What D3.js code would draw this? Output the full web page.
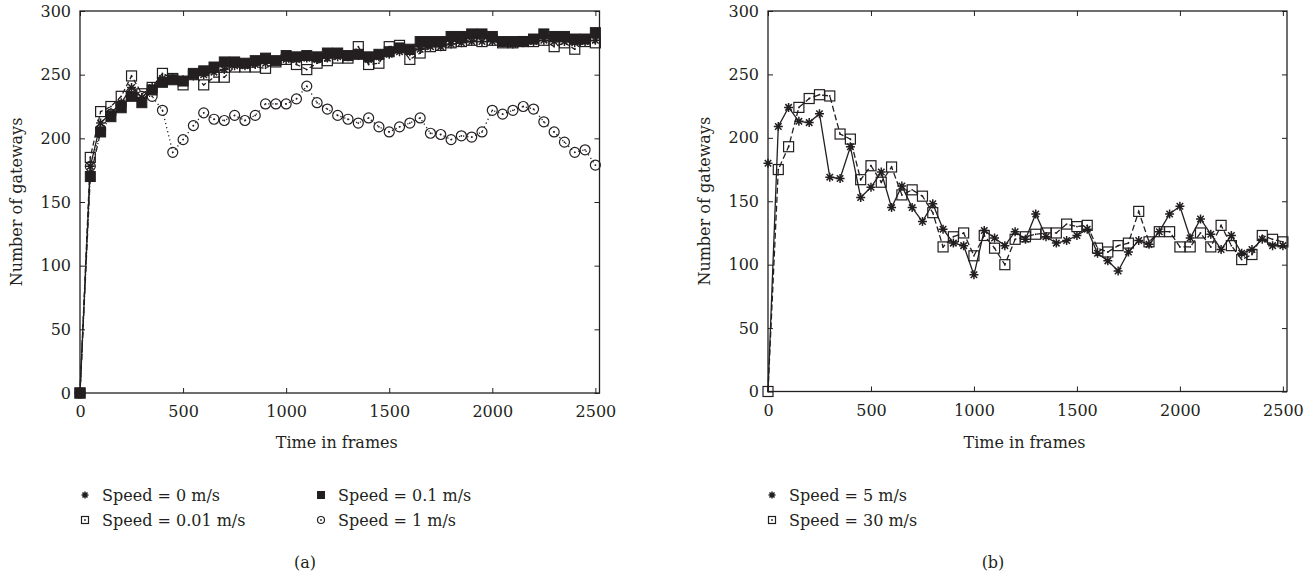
<!DOCTYPE html>
<html><head><meta charset="utf-8">
<script src="https://cdn.jsdelivr.net/npm/d3@7"></script>
<style>
body{margin:0;background:#fff}
svg text{font-family:"DejaVu Serif","Liberation Serif",serif;fill:#231f20}
</style>
</head><body>
<svg id="c" width="1316" height="577"></svg>
<script>
// ---------- data ----------
const frames = [0,50,100,150,200,250,300,350,400,450,500,550,600,650,700,750,800,850,900,950,
  1000,1050,1100,1150,1200,1250,1300,1350,1400,1450,1500,1550,1600,1650,1700,1750,1800,1850,1900,1950,
  2000,2050,2100,2150,2200,2250,2300,2350,2400,2450,2500];
const xTicks = [0,500,1000,1500,2000,2500];
const yTicks = [0,50,100,150,200,250,300];

// panel (a)
const speed0   = [0,178,212,220,228,240,232,240,247,247,246,249,250,252,254,257,257,258,259,261,
  262,262,263,262,263,264,264,265,262,264,266,268,268,270,272,272,274,275,276,276,
  276,275,274,275,276,277,276,276,275,276,277];
const speed001 = [0,185,221,225,233,249,235,240,251,247,242,250,242,248,248,256,256,256,255,260,
  262,258,254,259,261,263,263,272,258,259,272,273,262,267,272,273,275,276,277,276,
  277,275,275,276,276,277,272,275,270,276,275];
const speed01  = [0,170,205,217,224,233,228,238,244,246,245,251,253,256,260,260,259,261,263,261,
  265,264,265,264,267,267,265,266,264,266,268,271,270,276,276,276,280,280,282,282,
  280,276,276,276,278,282,280,280,278,278,283];
const speed1   = [0,178,207,219,226,236,233,233,222,189,199,210,220,215,214,218,214,218,227,227,
  227,231,241,228,223,218,215,212,216,209,205,209,212,216,204,203,199,202,201,205,
  222,219,222,225,223,213,205,197,189,191,179];

// panel (b)
const speed5   = [180,209,224,213,212,219,169,168,193,153,161,173,145,162,145,134,148,128,117,115,
  92,127,121,115,126,120,140,122,117,119,123,128,109,103,95,110,119,116,126,140,
  146,121,136,124,112,123,109,112,120,115,115];
const speed30  = [0,175,193,224,231,234,233,203,199,167,178,165,177,155,159,154,141,114,122,125,
  107,123,113,100,120,122,124,125,125,132,130,131,113,110,115,117,142,118,126,126,
  114,114,125,114,131,115,104,108,123,120,118];
const startValue = 0; // every run starts with 0 gateways

const labelsA = ["Speed = 0 m/s","Speed = 0.01 m/s","Speed = 0.1 m/s","Speed = 1 m/s"];
const labelsB = ["Speed = 5 m/s","Speed = 30 m/s"];

// ---------- drawing ----------
const svg = d3.select("#c");
const ink = "#231f20";

function starPath(s){ // 8-arm asterisk
  const r=s/2, d=r*0.72;
  return `M${-r},0L${r},0M0,${-r}L0,${r}M${-d},${-d}L${d},${d}M${-d},${d}L${d},${-d}`;
}
function drawMarker(g, type, x, y, s){
  if(type==="star"){
    g.append("path").attr("d",starPath(s)).attr("transform",`translate(${x},${y})`)
      .attr("stroke",ink).attr("stroke-width",1.5).attr("fill","none");
  } else if(type==="square"){
    g.append("rect").attr("x",x-s/2).attr("y",y-s/2).attr("width",s).attr("height",s)
      .attr("fill","none").attr("stroke",ink).attr("stroke-width",1.2);
    g.append("circle").attr("cx",x).attr("cy",y).attr("r",0.9).attr("fill",ink);
  } else if(type==="fsquare"){
    g.append("rect").attr("x",x-s/2).attr("y",y-s/2).attr("width",s).attr("height",s)
      .attr("fill",ink).attr("stroke",ink).attr("stroke-width",1);
  } else if(type==="circle"){
    g.append("circle").attr("cx",x).attr("cy",y).attr("r",s/2)
      .attr("fill","none").attr("stroke",ink).attr("stroke-width",1.2);
    g.append("circle").attr("cx",x).attr("cy",y).attr("r",0.9).attr("fill",ink);
  }
}

function panel(opts){
  const x = d3.scaleLinear().domain([0,2520]).range([opts.x0,opts.x1]);
  const y = d3.scaleLinear().domain([0,300]).range([opts.y0,opts.y1]);
  const g = svg.append("g");

  // axes (inward ticks on all sides)
  const tl = 5;
  g.append("g").attr("transform",`translate(0,${opts.y0})`)
    .call(d3.axisBottom(x).tickValues(xTicks).tickSize(-tl).tickPadding(tl+8).tickFormat(d3.format("d")))
    .call(a=>{a.select(".domain").remove(); a.selectAll("text").attr("font-size",16).style("fill",ink); a.selectAll("line").attr("stroke",ink);});
  g.append("g").attr("transform",`translate(0,${opts.y1})`)
    .call(d3.axisTop(x).tickValues(xTicks).tickSize(-tl).tickFormat(""))
    .call(a=>{a.select(".domain").remove(); a.selectAll("line").attr("stroke",ink);});
  g.append("g").attr("transform",`translate(${opts.x0},0)`)
    .call(d3.axisLeft(y).tickValues(yTicks).tickSize(-tl).tickPadding(tl+4))
    .call(a=>{a.select(".domain").remove(); a.selectAll("text").attr("font-size",16).style("fill",ink); a.selectAll("line").attr("stroke",ink);});
  g.append("g").attr("transform",`translate(${opts.x1},0)`)
    .call(d3.axisRight(y).tickValues(yTicks).tickSize(-tl).tickFormat(""))
    .call(a=>{a.select(".domain").remove(); a.selectAll("line").attr("stroke",ink);});
  g.append("rect").attr("x",opts.x0).attr("y",opts.y1).attr("width",opts.x1-opts.x0).attr("height",opts.y0-opts.y1)
    .attr("fill","none").attr("stroke",ink).attr("stroke-width",1.3);

  // series lines
  const line = d3.line().x(d=>x(d[0])).y(d=>y(d[1]));
  opts.series.forEach(s=>{
    const pts = frames.map((f,i)=>[f, i===0 ? startValue : s.values[i]]);
    g.append("path").attr("d",line(pts)).attr("fill","none").attr("stroke",ink)
      .attr("stroke-width",s.width||1.3).attr("stroke-dasharray",s.dash||null);
  });
  // markers
  opts.series.forEach(s=>{
    const mg = g.append("g");
    frames.forEach((f,i)=>drawMarker(mg, s.marker, x(f), y(s.values[i]), s.size));
  });

  // titles
  g.append("text").attr("x",(opts.x0+opts.x1)/2-3).attr("y",448).attr("text-anchor","middle")
    .attr("font-size",16).text("Time in frames");
  g.append("text").attr("transform",`translate(${opts.ylabX},${(opts.y0+opts.y1)/2}) rotate(-90)`)
    .attr("text-anchor","middle").attr("font-size",16).text("Number of gateways");
  g.append("text").attr("x",opts.capX).attr("y",568).attr("text-anchor","middle")
    .attr("font-size",16).text(opts.caption);

  // legend
  opts.legend.forEach(l=>{
    drawMarker(g, l.marker, l.x, l.y, 7);
    g.append("text").attr("x",l.x+17).attr("y",l.y+6).attr("font-size",16).text(l.label);
  });
}

panel({x0:80,x1:599.5,y0:393,y1:11,ylabX:22,capX:305,caption:"(a)",
  series:[
    {values:speed0, marker:"star", size:9},
    {values:speed001, marker:"square", size:10, dash:"5,3"},
    {values:speed01, marker:"fsquare", size:10, dash:"6,2,1,2"},
    {values:speed1, marker:"circle", size:10, dash:"1.2,3"}
  ],
  legend:[
    {marker:"star", x:85, y:495, label:labelsA[0]},
    {marker:"square", x:85, y:520, label:labelsA[1]},
    {marker:"fsquare", x:321, y:495, label:labelsA[2]},
    {marker:"circle", x:321, y:520, label:labelsA[3]}
  ]});

panel({x0:768,x1:1287,y0:391.5,y1:11,ylabX:710,capX:993,caption:"(b)",
  series:[
    {values:speed5, marker:"star", size:9},
    {values:speed30, marker:"square", size:10, dash:"6,3"}
  ],
  legend:[
    {marker:"star", x:772, y:495, label:labelsB[0]},
    {marker:"square", x:772, y:520, label:labelsB[1]}
  ]});
</script>
</body></html>
